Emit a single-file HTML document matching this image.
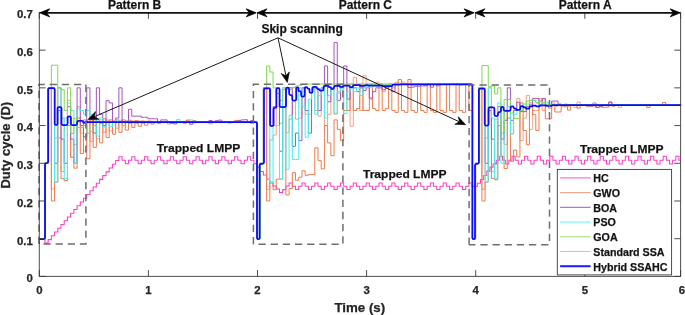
<!DOCTYPE html>
<html><head><meta charset="utf-8"><style>
html,body{margin:0;padding:0;background:#fff;width:685px;height:315px;overflow:hidden}
svg{display:block;will-change:transform}
</style></head><body>
<svg width="685" height="315" viewBox="0 0 685 315"><path d="M39.3 238.69H44.93V243.1H48.14V239.6H51.36V235.84H54.58V232.07H57.79V228.31H61V224.55H64.22V220.78H67.44V217.02H70.65V213.25H73.86V209.49H77.08V205.73H80.3V201.96H83.51V198.2H86.72V194.44H89.94V190.67H93.16V186.91H96.37V183.15H99.58V179.38H102.8V175.62H106.02V171.85H109.23V168.09H112.44V164.33H115.66V160.56H118.88V156.8H122.09V160.3H125.3V163.8H128.52V160.3H131.74V156.8H134.95V160.3H138.16V163.8H141.38V160.3H144.59V156.8H147.81V160.3H151.02V163.8H154.24V160.3H157.45V156.8H160.67V160.3H163.88V163.8H167.1V160.3H170.31V156.8H173.53V160.3H176.75V163.8H179.96V160.3H183.17V156.8H186.39V160.3H189.6V163.8H192.82V160.3H196.03V156.8H199.25V160.3H202.47V163.8H205.68V160.3H208.89V156.8H212.11V160.3H215.32V163.8H218.54V160.3H221.75V156.8H224.97V160.3H228.19V163.8H231.4V160.3H234.61V156.8H237.83V160.3H241.04V163.8H244.26V160.3H247.47V156.8H250.69V160.3H253.91V163.8H257V167.2H260.21V171.5H263.42V175H266.63V179H269.84V183H273.05V186H276.26V189H279.47V192.6H282.68V189.6H285.89V186H289.1V182.9H292.31V186.2H295.52V189.5H298.73V186.2H301.94V182.9H305.15V186.2H308.36V189.5H311.57V186.2H314.78V182.9H317.99V186.2H321.2V189.5H324.41V186.2H327.62V182.9H330.83V186.2H334.04V189.5H337.25V186.2H340.46V182.9H343.67V186.2H346.88V189.5H350.09V186.2H353.3V182.9H356.51V186.2H359.72V189.5H362.93V186.2H366.14V182.9H369.35V186.2H372.56V189.5H375.77V186.2H378.98V182.9H382.19V186.2H385.4V189.5H388.61V186.2H391.82V182.9H395.03V186.2H398.24V189.5H401.45V186.2H404.66V182.9H407.87V186.2H411.08V189.5H414.29V186.2H417.5V182.9H420.71V186.2H423.92V189.5H427.13V186.2H430.34V182.9H433.55V186.2H436.76V189.5H439.97V186.2H443.18V182.9H446.39V186.2H449.6V189.5H452.81V186.2H456.02V182.9H459.23V186.2H462.44V189.5H465.65V186.2H468.86V182.9H472.07V186.2H474.2V186.5H477.35V183.3H480.5V179.4H483.65V175.4H486.8V171.1H489.95V167.1H493.1V164H496.25V160.3H499.4V156.3H502.55V160.3H505.7V164H508.85V160.3H512V156.3H515.15V160.3H518.3V164H521.45V160.3H524.6V156.3H527.75V160.3H530.9V164H534.05V160.3H537.2V156.3H540.35V160.3H543.5V164H546.65V160.3H549.8V156.3H552.95V160.3H556.1V164H559.25V160.3H562.4V156.3H565.55V160.3H568.7V164H571.85V160.3H575V156.3H578.15V160.3H581.3V164H584.45V160.3H587.6V156.3H590.75V160.3H593.9V164H597.05V160.3H600.2V156.3H603.35V160.3H606.5V164H609.65V160.3H612.8V156.3H615.95V160.3H619.1V164H622.25V160.3H625.4V156.3H628.55V160.3H631.7V164H634.85V160.3H638V156.3H641.15V160.3H644.3V164H647.45V160.3H650.6V156.3H653.75V160.3H656.9V164H660.05V160.3H663.2V156.3H666.35V160.3H669.5V164H672.65V160.3H675.8V156.3H678.95V160.3H680.6" fill="none" stroke="#ff3fc8" stroke-width="1.05" stroke-linejoin="miter"/>
<path d="M39.3 238.69H41.72V238.69H44.93V163.27H48.14V87.85H51.36V188.91H54.58V138H57.79V138H61V171.57H64.22V118.02H67.44V100.29H70.65V157.24H73.86V144.41H77.08V106.7H80.3V133.1H83.51V150.83H86.72V119.9H89.94V141.4H93.16V119.9H96.37V138.76H99.58V119.9H102.8V132.35H106.02V119.9H109.23V130.84H112.44V120.28H115.66V128.2H118.88V120.28H122.09V125.56H125.3V120.66H128.52V123.67H131.74V121.03H134.95V123.3H138.16V121.03H141.38V123.67H144.59V121.41H147.81V122.92H151.02V121.41H154.24V122.54H157.45V121.79H160.67V121.79H163.88V121.79H167.1V124.05H170.31V121.79H173.53V121.79H176.75V121.79H179.96V121.79H183.17V123.59H186.39V120.38H189.6V121.79H192.82V122.8H196.03V121.79H199.25V121.79H202.47V121.79H205.68V121.79H208.89V123.81H212.11V121.79H215.32V121.79H218.54V121.79H221.75V121.79H224.97V121.79H228.19V121.79H231.4V121.79H234.61V121.79H237.83V121.79H241.04V121.79H244.26V121.79H247.47V121.79H250.69V121.79H253.91V121.79H257V238.69H260.21V163.27H263.42V87.85H266.63V189.29H269.84V139.89H273.05V134.99H276.26V106.7H279.47V123.3H282.68V87.85H285.89V132.72H289.1V119.15H292.31V87.85H295.52V119.15H298.73V118.02H301.94V87.85H305.15V114.25H308.36V114.25H311.57V87.85H314.78V110.48H317.99V116.13H321.2V87.85H324.41V125.56H327.62V114.25H330.83V87.85H334.04V114.25H337.25V93.13H340.46V84.08H343.67V110.48H346.88V84.08H350.09V126.31H353.3V77.29H356.51V84.08H359.72V110.48H362.93V75.78H366.14V84.08H369.35V99.16H372.56V84.08H375.77V82.19H378.98V84.08H382.19V91.62H385.4V84.08H388.61V84.08H391.82V87.85H395.03V82.31H398.24V84.08H401.45V82.08H404.66V84.08H407.87V84.08H411.08V85H414.29V84.08H417.5V84.08H420.71V86.24H423.92V84.08H427.13V84.08H430.34V84.08H433.55V84.08H436.76V84.08H439.97V84.08H443.18V84.08H446.39V84.08H449.6V84.08H452.81V84.08H456.02V84.08H459.23V85.15H462.44V84.08H465.65V84.08H468.86V84.08H472.07V84.08H472.4V238.69H475.57V163.27H478.74V87.85H481.91V189.29H485.08V138H488.25V87.85H491.42V171.57H494.59V119.15H497.76V156.48H500.93V106.7H504.1V144.41H507.27V106.7H510.44V133.86H513.61V110.48H516.78V98.41H519.95V140.64H523.12V118.02H526.29V95.39H529.46V129.33H532.63V110.48H535.8V110.48H538.97V98.41H542.14V110.48H545.31V102.93H548.48V108.59H551.65V102.93H554.82V106.7H557.99V103.69H561.16V106.7H564.33V104.07H567.5V106.29H570.67V104.82H573.84V107.33H577.01V102.09H580.18V104.82H583.35V104.82H586.52V104.82H589.69V104.82H592.86V106.98H596.03V104.82H599.2V104.82H602.37V104.82H605.54V104.82H608.71V104.82H611.88V104.82H615.05V104.82H618.22V107.34H621.39V104.82H624.56V104.82H627.73V104.82H630.9V104.82H634.07V104.82H637.24V104.82H640.41V104.82H643.58V104.82H646.75V104.82H649.92V104.82H653.09V104.82H656.26V104.82H659.43V104.82H662.6V104.82H665.77V104.82H668.94V104.82H672.11V104.82H675.28V104.82H678.45V104.82H680.6" fill="none" stroke="#f5a384" stroke-width="1.0" stroke-linejoin="miter"/>
<path d="M39.3 238.69H41.72V238.69H44.93V163.27H48.14V87.85H51.36V200.98H54.58V182.12H57.79V87.85H61V178.73H64.22V180.62H67.44V125.56H70.65V157.24H73.86V168.17H77.08V118.02H80.3V153.47H83.51V119.9H86.72V158.74H89.94V119.9H93.16V147.43H96.37V119.9H99.58V142.91H102.8V118.77H106.02V137.63H109.23V119.9H112.44V134.23H115.66V119.9H118.88V132.35H122.09V119.9H125.3V130.09H128.52V120.28H131.74V127.45H134.95V120.66H138.16V126.31H141.38V121.03H144.59V125.18H147.81V121.03H151.02V124.05H154.24V121.41H157.45V123.3H160.67V121.41H163.88V122.54H167.1V121.79H170.31V121.79H173.53V121.79H176.75V121.79H179.96V121.79H183.17V121.79H186.39V120.03H189.6V121.79H192.82V120.69H196.03V121.79H199.25V121.79H202.47V121.79H205.68V121.79H208.89V121.79H212.11V121.79H215.32V121.79H218.54V121.79H221.75V121.79H224.97V121.79H228.19V122.95H231.4V121.79H234.61V120.44H237.83V121.79H241.04V121.79H244.26V121.79H247.47V121.79H250.69V123.31H253.91V121.79H257V238.69H260.21V163.27H263.42V87.85H266.63V200.98H269.84V182.12H273.05V189.67H276.26V179.11H279.47V179.11H282.68V106.7H285.89V194.95H289.1V188.54H292.31V172.7H295.52V180.24H298.73V177.22H301.94V170.81H305.15V175.34H308.36V174.58H311.57V174.58H314.78V147.81H317.99V160.63H321.2V168.93H324.41V125.56H327.62V142.91H330.83V155.73H334.04V119.9H337.25V129.33H340.46V140.64H343.67V110.48H346.88V110.48H350.09V84.08H353.3V110.48H356.51V108.59H359.72V84.08H362.93V110.48H366.14V110.48H369.35V84.08H372.56V108.59H375.77V110.48H378.98V84.08H382.19V110.48H385.4V108.59H388.61V84.08H391.82V110.48H395.03V112.36H398.24V79.55H401.45V110.48H404.66V112.36H407.87V79.55H411.08V110.48H414.29V112.36H417.5V84.08H420.71V110.48H423.92V112.36H427.13V84.08H430.34V110.48H433.55V112.36H436.76V84.08H439.97V110.48H443.18V112.36H446.39V84.08H449.6V110.48H452.81V112.36H456.02V84.08H459.23V110.48H462.44V112.36H465.65V84.08H468.86V110.48H472.07V112.36H472.4V238.69H475.57V163.27H478.74V87.85H481.91V200.98H485.08V182.12H488.25V106.7H491.42V178.35H494.59V179.86H497.76V125.56H500.93V156.48H504.1V168.55H507.27V118.02H510.44V161.38H513.61V150.07H516.78V156.86H519.95V102.93H523.12V130.46H526.29V144.41H529.46V102.93H532.63V114.62H535.8V130.46H538.97V101.05H542.14V98.41H545.31V118.77H548.48V118.77H551.65V104.82H554.82V111.98H557.99V111.98H561.16V104.82H564.33V106.7H567.5V110.1H570.67V104.82H573.84V104.82H577.01V108.21H580.18V104.82H583.35V104.82H586.52V106.7H589.69V104.82H592.86V102.93H596.03V107.41H599.2V106.28H602.37V107.31H605.54V107.22H608.71V102.66H611.88V106.24H615.05V104.82H618.22V104.82H621.39V104.82H624.56V104.82H627.73V104.82H630.9V104.82H634.07V104.82H637.24V104.82H640.41V104.82H643.58V104.82H646.75V107.54H649.92V104.82H653.09V104.82H656.26V104.82H659.43V104.82H662.6V102.43H665.77V104.82H668.94V104.82H672.11V104.82H675.28V104.82H678.45V104.82H680.6" fill="none" stroke="#ef7b4c" stroke-width="1.0" stroke-linejoin="miter"/>
<path d="M39.3 238.69H41.72V238.69H44.93V163.27H48.14V87.85H51.36V87.85H54.58V163.27H57.79V110.48H61V139.14H64.22V163.27H67.44V106.7H70.65V139.14H73.86V163.27H77.08V87.85H80.3V125.56H83.51V136.87H86.72V87.85H89.94V118.02H93.16V133.1H96.37V87.85H99.58V114.25H102.8V125.56H106.02V100.67H109.23V102.93H112.44V121.79H115.66V118.02H118.88V87.85H122.09V121.79H125.3V121.79H128.52V109.34H131.74V116.13H134.95V116.13H138.16V116.13H141.38V117.26H144.59V117.26H147.81V118.77H151.02V118.77H154.24V118.77H157.45V121.79H160.67V119.9H163.88V119.9H167.1V121.79H170.31V123.27H173.53V123.89H176.75V121.79H179.96V121.79H183.17V121.79H186.39V121.79H189.6V124.22H192.82V121.79H196.03V121.79H199.25V121.79H202.47V121.79H205.68V121.79H208.89V120.47H212.11V121.79H215.32V120.69H218.54V120.09H221.75V121.79H224.97V121.79H228.19V121.79H231.4V121.79H234.61V121.79H237.83V120.45H241.04V119.92H244.26V119.74H247.47V121.79H250.69V120.57H253.91V121.79H257V238.69H260.21V163.27H263.42V87.85H266.63V87.85H269.84V125.56H273.05V106.7H276.26V87.85H279.47V151.2H282.68V106.7H285.89V87.85H289.1V87.85H292.31V146.3H295.52V133.1H298.73V140.64H301.94V87.85H305.15V110.48H308.36V133.1H311.57V87.85H314.78V87.85H317.99V110.48H321.2V87.85H324.41V65.98H327.62V101.8H330.83V87.85H334.04V42.6H337.25V100.29H340.46V87.85H343.67V65.98H346.88V99.16H350.09V87.85H353.3V87.85H356.51V91.62H359.72V87.85H362.93V90.49H366.14V87.85H369.35V98.03H372.56V91.62H375.77V87.85H378.98V87.85H382.19V89.74H385.4V87.85H388.61V85.96H391.82V91.62H395.03V84.08H398.24V84.08H401.45V84.08H404.66V84.08H407.87V87.37H411.08V87.19H414.29V86.17H417.5V86.25H420.71V84.08H423.92V85.85H427.13V84.08H430.34V87.13H433.55V84.08H436.76V85.76H439.97V84.08H443.18V84.08H446.39V84.08H449.6V84.08H452.81V84.08H456.02V84.08H459.23V84.08H462.44V84.08H465.65V84.08H468.86V84.08H472.07V84.08H472.4V238.69H475.57V163.27H478.74V87.85H481.91V87.85H485.08V163.27H488.25V110.48H491.42V139.14H494.59V163.27H497.76V106.7H500.93V139.14H504.1V120.28H507.27V87.85H510.44V120.28H513.61V110.48H516.78V102.18H519.95V111.61H523.12V111.61H526.29V106.7H529.46V104.82H532.63V98.41H535.8V98.41H538.97V104.82H542.14V98.79H545.31V104.82H548.48V106.7H551.65V101.05H554.82V101.05H557.99V104.82H561.16V104.82H564.33V104.82H567.5V104.82H570.67V104.82H573.84V104.82H577.01V104.82H580.18V104.82H583.35V104.82H586.52V104.82H589.69V106.2H592.86V104.82H596.03V107.39H599.2V106.69H602.37V104.82H605.54V104.82H608.71V101.92H611.88V104.82H615.05V104.82H618.22V104.82H621.39V104.82H624.56V104.82H627.73V104.82H630.9V104.82H634.07V104.82H637.24V104.82H640.41V104.82H643.58V104.82H646.75V104.82H649.92V104.82H653.09V104.82H656.26V104.82H659.43V104.82H662.6V104.82H665.77V104.82H668.94V104.82H672.11V104.82H675.28V104.82H678.45V104.82H680.6" fill="none" stroke="#a555c0" stroke-width="1.0" stroke-linejoin="miter"/>
<path d="M39.3 238.69H41.72V238.69H44.93V163.27H48.14V87.85H51.36V87.85H54.58V182.12H57.79V87.85H61V118.02H64.22V178.35H67.44V102.93H70.65V110.48H73.86V163.27H77.08V108.97H80.3V110.48H83.51V114.25H86.72V110.48H89.94V114.25H93.16V118.02H96.37V136.12H99.58V118.02H102.8V127.07H106.02V121.79H109.23V126.69H112.44V121.79H115.66V119.9H118.88V121.79H122.09V121.79H125.3V121.03H128.52V121.79H131.74V121.79H134.95V121.79H138.16V121.79H141.38V121.79H144.59V121.79H147.81V121.79H151.02V121.79H154.24V121.79H157.45V121.79H160.67V121.79H163.88V121.79H167.1V121.79H170.31V121.79H173.53V121.79H176.75V119.53H179.96V121.79H183.17V121.79H186.39V121.79H189.6V119.9H192.82V121.79H196.03V121.79H199.25V121.79H202.47V121.79H205.68V121.79H208.89V121.79H212.11V121.79H215.32V121.79H218.54V121.79H221.75V121.79H224.97V121.79H228.19V121.79H231.4V121.79H234.61V121.79H237.83V121.79H241.04V121.79H244.26V121.79H247.47V121.79H250.69V121.79H253.91V121.79H257V238.69H260.21V163.27H263.42V87.85H266.63V87.85H269.84V182.5H273.05V125.56H276.26V125.56H279.47V179.11H282.68V87.85H285.89V169.3H289.1V115.38H292.31V159.5H295.52V159.5H298.73V87.85H301.94V106.7H305.15V137.25H308.36V99.16H311.57V87.85H314.78V114.25H317.99V95.39H321.2V87.85H324.41V118.02H327.62V95.39H330.83V87.85H334.04V113.12H337.25V91.62H340.46V87.85H343.67V113.49H346.88V91.62H350.09V87.85H353.3V91.62H356.51V87.85H359.72V95.39H362.93V87.85H366.14V85.96H369.35V87.85H372.56V84.08H375.77V85.96H378.98V84.08H382.19V84.08H385.4V85.96H388.61V84.08H391.82V84.08H395.03V83.31H398.24V84.08H401.45V84.08H404.66V84.08H407.87V84.08H411.08V84.08H414.29V84.08H417.5V84.08H420.71V84.08H423.92V84.08H427.13V84.08H430.34V84.08H433.55V84.08H436.76V85.22H439.97V84.08H443.18V84.08H446.39V84.08H449.6V84.08H452.81V84.08H456.02V84.08H459.23V84.08H462.44V84.08H465.65V84.08H468.86V84.08H472.07V84.08H472.4V238.69H475.57V163.27H478.74V87.85H481.91V87.85H485.08V182.12H488.25V87.85H491.42V118.02H494.59V178.35H497.76V102.93H500.93V163.27H504.1V110.48H507.27V106.7H510.44V133.86H513.61V114.25H516.78V110.48H519.95V106.7H523.12V104.07H526.29V104.07H529.46V100.29H532.63V100.29H535.8V102.93H538.97V104.82H542.14V103.69H545.31V102.18H548.48V104.82H551.65V104.82H554.82V104.82H557.99V104.82H561.16V104.82H564.33V104.82H567.5V104.82H570.67V104.82H573.84V104.82H577.01V104.82H580.18V104.82H583.35V104.82H586.52V104.82H589.69V104.82H592.86V104.82H596.03V104.82H599.2V104.82H602.37V104.82H605.54V104.82H608.71V104.82H611.88V104.82H615.05V104.82H618.22V104.82H621.39V104.82H624.56V104.82H627.73V104.82H630.9V104.82H634.07V104.82H637.24V104.82H640.41V104.82H643.58V104.82H646.75V104.82H649.92V104.82H653.09V104.82H656.26V104.82H659.43V104.82H662.6V104.82H665.77V104.82H668.94V104.82H672.11V104.82H675.28V104.82H678.45V104.82H680.6" fill="none" stroke="#3ff2f2" stroke-width="1.0" stroke-linejoin="miter"/>
<path d="M39.3 238.69H41.72V238.69H44.93V163.27H48.14V87.85H51.36V65.22H54.58V65.22H57.79V87.85H61V89.74H64.22V110.48H67.44V87.85H70.65V133.48H73.86V118.4H77.08V127.45H80.3V127.45H83.51V125.56H86.72V133.1H89.94V131.22H93.16V125.56H96.37V121.79H99.58V123.67H102.8V121.79H106.02V121.79H109.23V121.79H112.44V121.79H115.66V121.79H118.88V121.79H122.09V121.79H125.3V121.79H128.52V121.79H131.74V121.79H134.95V121.79H138.16V121.79H141.38V121.79H144.59V121.79H147.81V121.79H151.02V121.79H154.24V121.79H157.45V121.79H160.67V121.79H163.88V121.79H167.1V121.79H170.31V121.79H173.53V121.79H176.75V121.79H179.96V121.79H183.17V121.79H186.39V121.79H189.6V121.79H192.82V121.79H196.03V121.79H199.25V121.79H202.47V121.79H205.68V121.79H208.89V121.79H212.11V121.79H215.32V121.79H218.54V121.79H221.75V121.79H224.97V121.79H228.19V121.79H231.4V121.79H234.61V121.79H237.83V121.79H241.04V121.79H244.26V121.79H247.47V121.79H250.69V121.79H253.91V121.79H257V238.69H260.21V163.27H263.42V87.85H266.63V65.98H269.84V72.01H273.05V87.85H276.26V93.51H279.47V100.29H282.68V89.36H285.89V89.36H289.1V89.36H292.31V87.47H295.52V85.96H298.73V85.21H301.94V84.08H305.15V84.08H308.36V84.08H311.57V84.08H314.78V84.08H317.99V84.08H321.2V84.08H324.41V84.08H327.62V84.08H330.83V84.08H334.04V84.08H337.25V84.08H340.46V84.08H343.67V84.08H346.88V84.08H350.09V84.08H353.3V84.08H356.51V84.08H359.72V84.08H362.93V84.08H366.14V84.08H369.35V84.08H372.56V84.08H375.77V84.08H378.98V84.08H382.19V84.08H385.4V84.08H388.61V84.08H391.82V84.08H395.03V84.08H398.24V84.08H401.45V84.08H404.66V84.08H407.87V84.08H411.08V84.08H414.29V84.08H417.5V84.08H420.71V84.08H423.92V84.08H427.13V84.08H430.34V84.08H433.55V84.08H436.76V84.08H439.97V84.08H443.18V84.08H446.39V84.08H449.6V84.08H452.81V84.08H456.02V84.08H459.23V84.08H462.44V84.08H465.65V84.08H468.86V84.08H472.07V84.08H472.4V238.69H475.57V163.27H478.74V87.85H481.91V65.6H485.08V65.6H488.25V86.72H491.42V85.96H494.59V93.88H497.76V87.85H500.93V133.1H504.1V99.54H507.27V99.54H510.44V113.12H513.61V118.4H516.78V118.4H519.95V110.48H523.12V106.7H526.29V101.05H529.46V100.29H532.63V100.29H535.8V102.93H538.97V101.05H542.14V102.18H545.31V104.82H548.48V104.82H551.65V104.82H554.82V104.82H557.99V104.82H561.16V104.82H564.33V104.82H567.5V104.82H570.67V104.82H573.84V104.82H577.01V104.82H580.18V104.82H583.35V104.82H586.52V104.82H589.69V104.82H592.86V104.82H596.03V104.82H599.2V104.82H602.37V104.82H605.54V104.82H608.71V104.82H611.88V104.82H615.05V104.82H618.22V104.82H621.39V104.82H624.56V104.82H627.73V104.82H630.9V104.82H634.07V104.82H637.24V104.82H640.41V104.82H643.58V104.82H646.75V104.82H649.92V104.82H653.09V104.82H656.26V104.82H659.43V104.82H662.6V104.82H665.77V104.82H668.94V104.82H672.11V104.82H675.28V104.82H678.45V104.82H680.6" fill="none" stroke="#80d850" stroke-width="1.0" stroke-linejoin="miter"/>
<path d="M39.3 239L43.5 239Q45 239 45 237.5L45 164.6Q45 163.1 46.5 163.1L46.7 163.1Q48.2 163.1 48.2 161.6L48.2 89.5Q48.2 88 49.7 88L53.2 88Q54.7 88 54.7 89.5L54.7 123.6Q54.7 125 56.1 125L56.1 125Q57.5 125 57.5 123.6L57.5 108.6Q57.5 107.1 59 107.1L60 107.1Q61.5 107.1 61.5 108.6L61.5 123.5Q61.5 125 63 125L66.1 125Q67.6 125 67.6 123.5L67.6 117.8Q67.6 116.3 69.1 116.3L69.4 116.3Q70.9 116.3 70.9 117.8L70.9 123.5Q70.9 125 72.4 125L75.7 125Q77.2 125 77.2 123.5L77.2 122.3Q77.2 120.8 78.7 120.8L82 120.8Q83 120.8 83 121.8L83 121.8Q83 122.8 84 122.8L84.35 122.8Q85 122.8 85 122.15L85 122.15Q85 121.5 85.65 121.5L86.75 121.5Q87 121.5 87 121.75L87 121.75Q87 122 87.25 122L255.5 122Q257 122 257 123.5L257 237.7Q257 239 258.3 239L258.3 239Q259.6 239 259.6 237.7L259.6 165.3Q259.6 163.8 261.1 163.8L262.5 163.8Q264 163.8 264 162.3L264 89.8Q264 88.3 265.5 88.3L268.6 88.3Q270.1 88.3 270.1 89.8L270.1 124.5Q270.1 126 271.6 126L272.1 126Q273.6 126 273.6 124.5L273.6 109.2Q273.6 107.8 275 107.8L275 107.8Q276.4 107.8 276.4 106.4L276.4 89.5Q276.4 88 277.9 88L278.1 88Q279.6 88 279.6 89.5L279.6 105.5Q279.6 107 281.1 107L284.5 107Q286 107 286 105.5L286 89.1Q286 87.6 287.5 87.6L287.6 87.6Q289.1 87.6 289.1 89.1L289.1 93.5Q289.1 95 290.6 95L290.8 95Q292.3 95 292.3 96.5L292.3 99.1Q292.3 100.6 293.8 100.6L294.8 100.6Q296.3 100.6 296.3 99.1L296.3 88.4Q296.3 87.3 297.4 87.3L297.4 87.3Q298.5 87.3 298.5 88.4L298.5 89.9Q298.5 91.2 299.8 91.2L299.8 91.2Q301.1 91.2 301.1 92.5L301.1 95.1Q301.1 96.6 302.6 96.6L303.1 96.6Q304.6 96.6 304.6 95.1L304.6 88.55Q304.6 87.2 305.95 87.2L306.65 87.2Q307.3 87.2 307.3 87.85L307.3 87.85Q307.3 88.5 307.95 88.5L308.4 88.5Q309.5 88.5 309.5 89.6L309.5 91.4Q309.5 92.9 311 92.9L311 92.9Q312.5 92.9 312.5 91.4L312.5 88.3Q312.5 86.8 314 86.8L315.8 86.8Q316.9 86.8 316.9 87.9L316.9 87.9Q316.9 89 318 89L318.75 89Q319.6 89 319.6 89.85L319.6 89.85Q319.6 90.7 320.45 90.7L322 90.7Q323.5 90.7 323.5 89.2L323.5 87.4Q323.5 85.9 325 85.9L328.15 85.9Q328.8 85.9 328.8 86.55L328.8 86.55Q328.8 87.2 329.45 87.2L330.1 87.2Q331 87.2 331 88.1L331 88.1Q331 89 331.9 89L332.5 89Q334 89 334 87.5L334 87.4Q334 85.9 335.5 85.9L339.25 85.9Q339.7 85.9 339.7 86.35L339.7 86.35Q339.7 86.8 340.15 86.8L342.55 86.8Q343.2 86.8 343.2 86.15L343.2 86.15Q343.2 85.5 343.85 85.5L348.55 85.5Q349.4 85.5 349.4 86.35L349.4 86.35Q349.4 87.2 350.25 87.2L351.9 87.2Q352.9 87.2 352.9 86.2L352.9 86.2Q352.9 85.2 353.9 85.2L359.65 85.2Q360 85.2 360 85.55L360 85.55Q360 85.9 360.35 85.9L364.55 85.9Q365 85.9 365 85.45L365 85.45Q365 85 365.45 85L367.7 85Q368 85 368 85.3L368 85.3Q368 85.6 368.3 85.6L382.55 85.6Q382.8 85.6 382.8 85.85L382.8 85.85Q382.8 86.1 383.05 86.1L391.65 86.1Q392.4 86.1 392.4 85.35L392.4 85.35Q392.4 84.6 393.15 84.6L399.85 84.6Q400 84.6 400 84.45L400 84.45Q400 84.3 400.15 84.3L470.9 84.3Q472.4 84.3 472.4 85.8L472.4 237.7Q472.4 239 473.7 239L473.7 239Q475 239 475 237.7L475 165.3Q475 163.8 476.5 163.8L477.4 163.8Q478.9 163.8 478.9 162.3L478.9 90Q478.9 88.5 480.4 88.5L483.2 88.5Q484.7 88.5 484.7 90L484.7 124Q484.7 125.5 486.2 125.5L487.1 125.5Q488.6 125.5 488.6 124L488.6 108.8Q488.6 107.3 490.1 107.3L492.9 107.3Q494.4 107.3 494.4 108.8L494.4 114.5Q494.4 116 495.9 116L496.5 116Q498 116 498 114.5L498 113.6Q498 112.1 499.5 112.1L499.5 112.1Q501 112.1 501 110.6L501 108.1Q501 106.8 502.3 106.8L502.3 106.8Q503.6 106.8 503.6 108.1L503.6 109.3Q503.6 110.8 505.1 110.8L509.1 110.8Q510.6 110.8 510.6 109.3L510.6 107.9Q510.6 106.4 512.1 106.4L512.6 106.4Q513.7 106.4 513.7 107.5L513.7 107.5Q513.7 108.6 514.8 108.6L515.65 108.6Q516.3 108.6 516.3 109.25L516.3 109.25Q516.3 109.9 516.95 109.9L518.8 109.9Q520.3 109.9 520.3 108.4L520.3 107.5Q520.3 106 521.8 106L522.65 106Q523.3 106 523.3 106.65L523.3 106.65Q523.3 107.3 523.95 107.3L525.35 107.3Q526 107.3 526 107.95L526 107.95Q526 108.6 526.65 108.6L528.4 108.6Q529.5 108.6 529.5 107.5L529.5 107.5Q529.5 106.4 530.6 106.4L532.05 106.4Q532.5 106.4 532.5 105.95L532.5 105.95Q532.5 105.5 532.95 105.5L535.55 105.5Q536 105.5 536 105.95L536 105.95Q536 106.4 536.45 106.4L539.45 106.4Q540 106.4 540 105.85L540 105.85Q540 105.3 540.55 105.3L545.7 105.3Q546 105.3 546 105.6L546 105.6Q546 105.9 546.3 105.9L551.55 105.9Q552 105.9 552 105.45L552 105.45Q552 105 552.45 105L680.6 105" fill="none" stroke="#0a0aff" stroke-width="1.75" stroke-linejoin="round" stroke-linecap="round"/>
<path d="M39.0 244.0V84.4H85.9V244.0H39.0" stroke="#6e6e6e" stroke-width="1.5" stroke-dasharray="7.3 4.86" fill="none"/>
<path d="M253.4 244.2V84.3H342.9V244.2H253.4" stroke="#6e6e6e" stroke-width="1.5" stroke-dasharray="7.3 4.86" fill="none"/>
<path d="M469.1 244.8V84.9H549.5V244.8H469.1" stroke="#6e6e6e" stroke-width="1.5" stroke-dasharray="7.3 4.86" fill="none"/>
<path d="M39.3 12.5V276.4H680.6V12.5" fill="none" stroke="#3a3a3a" stroke-width="0.9"/>
<path d="M39.3 276.40h6.3M680.6 276.40h-6.3M39.3 238.69h6.3M680.6 238.69h-6.3M39.3 200.98h6.3M680.6 200.98h-6.3M39.3 163.27h6.3M680.6 163.27h-6.3M39.3 125.56h6.3M680.6 125.56h-6.3M39.3 87.85h6.3M680.6 87.85h-6.3M39.3 50.14h6.3M680.6 50.14h-6.3M39.3 12.43h6.3M680.6 12.43h-6.3M39.30 276.4v-6.3M39.30 12.5v6.3M148.40 276.4v-6.3M148.40 12.5v6.3M257.50 276.4v-6.3M257.50 12.5v6.3M366.60 276.4v-6.3M366.60 12.5v6.3M475.70 276.4v-6.3M475.70 12.5v6.3M584.80 276.4v-6.3M584.80 12.5v6.3M680.60 276.4v-6.3M680.60 12.5v6.3" stroke="#3a3a3a" stroke-width="0.9" fill="none"/>
<text x="32.8" y="282.30" font-family="Liberation Sans, sans-serif" font-weight="bold" stroke="#202020" stroke-width="0.25" font-size="11.4" fill="#262626" text-anchor="end">0</text>
<text x="32.8" y="244.59" font-family="Liberation Sans, sans-serif" font-weight="bold" stroke="#202020" stroke-width="0.25" font-size="11.4" fill="#262626" text-anchor="end">0.1</text>
<text x="32.8" y="206.88" font-family="Liberation Sans, sans-serif" font-weight="bold" stroke="#202020" stroke-width="0.25" font-size="11.4" fill="#262626" text-anchor="end">0.2</text>
<text x="32.8" y="169.17" font-family="Liberation Sans, sans-serif" font-weight="bold" stroke="#202020" stroke-width="0.25" font-size="11.4" fill="#262626" text-anchor="end">0.3</text>
<text x="32.8" y="131.46" font-family="Liberation Sans, sans-serif" font-weight="bold" stroke="#202020" stroke-width="0.25" font-size="11.4" fill="#262626" text-anchor="end">0.4</text>
<text x="32.8" y="93.75" font-family="Liberation Sans, sans-serif" font-weight="bold" stroke="#202020" stroke-width="0.25" font-size="11.4" fill="#262626" text-anchor="end">0.5</text>
<text x="32.8" y="56.04" font-family="Liberation Sans, sans-serif" font-weight="bold" stroke="#202020" stroke-width="0.25" font-size="11.4" fill="#262626" text-anchor="end">0.6</text>
<text x="32.8" y="18.33" font-family="Liberation Sans, sans-serif" font-weight="bold" stroke="#202020" stroke-width="0.25" font-size="11.4" fill="#262626" text-anchor="end">0.7</text>
<text x="39.30" y="294.1" font-family="Liberation Sans, sans-serif" font-weight="bold" stroke="#202020" stroke-width="0.25" font-size="11.4" fill="#262626" text-anchor="middle">0</text>
<text x="148.40" y="294.1" font-family="Liberation Sans, sans-serif" font-weight="bold" stroke="#202020" stroke-width="0.25" font-size="11.4" fill="#262626" text-anchor="middle">1</text>
<text x="257.50" y="294.1" font-family="Liberation Sans, sans-serif" font-weight="bold" stroke="#202020" stroke-width="0.25" font-size="11.4" fill="#262626" text-anchor="middle">2</text>
<text x="366.60" y="294.1" font-family="Liberation Sans, sans-serif" font-weight="bold" stroke="#202020" stroke-width="0.25" font-size="11.4" fill="#262626" text-anchor="middle">3</text>
<text x="475.70" y="294.1" font-family="Liberation Sans, sans-serif" font-weight="bold" stroke="#202020" stroke-width="0.25" font-size="11.4" fill="#262626" text-anchor="middle">4</text>
<text x="584.80" y="294.1" font-family="Liberation Sans, sans-serif" font-weight="bold" stroke="#202020" stroke-width="0.25" font-size="11.4" fill="#262626" text-anchor="middle">5</text>
<text x="682.00" y="294.1" font-family="Liberation Sans, sans-serif" font-weight="bold" stroke="#202020" stroke-width="0.25" font-size="11.4" fill="#262626" text-anchor="middle">6</text>
<text x="359.8" y="311.5" font-family="Liberation Sans, sans-serif" font-weight="bold" stroke="#202020" stroke-width="0.25" font-size="13.3" fill="#262626" text-anchor="middle">Time (s)</text>
<text transform="translate(10.3 145.2) rotate(-90)" x="0" y="0" font-family="Liberation Sans, sans-serif" font-weight="bold" stroke="#202020" stroke-width="0.25" font-size="13" fill="#262626" text-anchor="middle">Duty cycle (D)</text>
<path d="M44.3 12.85H251.60000000000002M261.6 12.85H469.5M479.5 12.85H675.6" stroke="#111" stroke-width="1.55" fill="none"/>
<path d="M39.70 12.85L49.70 8.85L46.50 12.85L49.70 16.85ZM256.20 12.85L246.20 16.85L249.40 12.85L246.20 8.85ZM257.00 12.85L267.00 8.85L263.80 12.85L267.00 16.85ZM474.10 12.85L464.10 16.85L467.30 12.85L464.10 8.85ZM474.90 12.85L484.90 8.85L481.70 12.85L484.90 16.85ZM680.20 12.85L670.20 16.85L673.40 12.85L670.20 8.85Z" fill="#000" stroke="#000" stroke-width="0.8" stroke-linejoin="miter"/>
<text x="107.9" y="9.2" font-family="Liberation Sans, sans-serif" font-weight="bold" stroke="#202020" stroke-width="0.25" font-size="12" fill="#111">Pattern B</text>
<text x="338.7" y="9.2" font-family="Liberation Sans, sans-serif" font-weight="bold" stroke="#202020" stroke-width="0.25" font-size="12" fill="#111">Pattern C</text>
<text x="558.7" y="9.2" font-family="Liberation Sans, sans-serif" font-weight="bold" stroke="#202020" stroke-width="0.25" font-size="12" fill="#111">Pattern A</text>
<text x="261.4" y="33.0" font-family="Liberation Sans, sans-serif" font-weight="bold" stroke="#202020" stroke-width="0.25" font-size="12" fill="#111">Skip scanning</text>
<path d="M278.0 37.8L94.21 116.73M278.0 37.8L285.97 75.93M278.0 37.8L459.56 121.88" stroke="#1a1a1a" stroke-width="1.0" fill="none"/>
<path d="M88.06 119.38L95.59 111.57L94.30 116.69L98.90 119.29ZM287.34 82.49L281.19 73.56L285.95 75.83L289.41 71.84ZM465.64 124.69L454.80 124.30L459.46 121.84L458.33 116.68Z" fill="#000" stroke="#000" stroke-width="0.6"/>
<text x="156.7" y="152.2" font-family="Liberation Sans, sans-serif" font-weight="bold" stroke="#202020" stroke-width="0.25" font-size="11.6" fill="#111" textLength="83.5" lengthAdjust="spacingAndGlyphs">Trapped LMPP</text>
<text x="363.0" y="178.4" font-family="Liberation Sans, sans-serif" font-weight="bold" stroke="#202020" stroke-width="0.25" font-size="11.6" fill="#111" textLength="83.5" lengthAdjust="spacingAndGlyphs">Trapped LMPP</text>
<text x="580.0" y="152.9" font-family="Liberation Sans, sans-serif" font-weight="bold" stroke="#202020" stroke-width="0.25" font-size="11.6" fill="#111" textLength="83.5" lengthAdjust="spacingAndGlyphs">Trapped LMPP</text>
<rect x="557.3" y="169.4" width="114.3" height="105.5" fill="#fff" stroke="#3a3a3a" stroke-width="0.9"/>
<path d="M560.1 177.90H590.6" stroke="#ff5fd0" stroke-width="1.1"/>
<text x="593.3" y="182.20" font-family="Liberation Sans, sans-serif" font-weight="bold" stroke="#202020" stroke-width="0.25" font-size="10.7" fill="#111">HC</text>
<path d="M560.1 192.62H590.6" stroke="#f3a07e" stroke-width="1.1"/>
<text x="593.3" y="196.92" font-family="Liberation Sans, sans-serif" font-weight="bold" stroke="#202020" stroke-width="0.25" font-size="10.7" fill="#111">GWO</text>
<path d="M560.1 207.34H590.6" stroke="#a866c4" stroke-width="1.1"/>
<text x="593.3" y="211.64" font-family="Liberation Sans, sans-serif" font-weight="bold" stroke="#202020" stroke-width="0.25" font-size="10.7" fill="#111">BOA</text>
<path d="M560.1 222.06H590.6" stroke="#6ff5f5" stroke-width="1.1"/>
<text x="593.3" y="226.36" font-family="Liberation Sans, sans-serif" font-weight="bold" stroke="#202020" stroke-width="0.25" font-size="10.7" fill="#111">PSO</text>
<path d="M560.1 236.78H590.6" stroke="#a3e07e" stroke-width="1.1"/>
<text x="593.3" y="241.08" font-family="Liberation Sans, sans-serif" font-weight="bold" stroke="#202020" stroke-width="0.25" font-size="10.7" fill="#111">GOA</text>
<path d="M560.1 251.50H590.6" stroke="#f7b49a" stroke-width="1.1"/>
<text x="593.3" y="255.80" font-family="Liberation Sans, sans-serif" font-weight="bold" stroke="#202020" stroke-width="0.25" font-size="10.7" fill="#111">Standard SSA</text>
<path d="M560.1 266.22H590.6" stroke="#1a1aff" stroke-width="2.0"/>
<text x="593.3" y="270.52" font-family="Liberation Sans, sans-serif" font-weight="bold" stroke="#202020" stroke-width="0.25" font-size="10.7" fill="#111">Hybrid SSAHC</text></svg>
</body></html>
